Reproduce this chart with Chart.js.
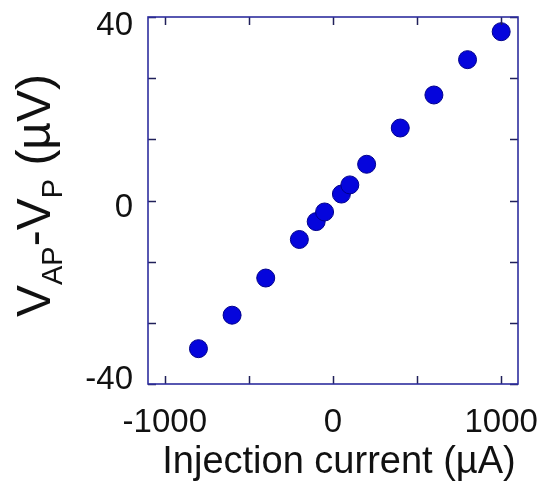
<!DOCTYPE html>
<html>
<head>
<meta charset="utf-8">
<script src="https://cdn.jsdelivr.net/npm/chart.js@4.4.1/dist/chart.umd.min.js"></script>
<style>
  html, body { margin: 0; padding: 0; background: #ffffff; }
  canvas { display: block; }
</style>
</head>
<body>
<canvas id="chart" width="547" height="491"></canvas>
<script>
// Injection current (µA) and measured voltage difference (µV)
const currents = [-800, -600, -400, -200, -100, -50, 50, 100, 200, 400, 600, 800, 1000];
const voltages = [-32.3, -25.0, -16.9, -8.5, -4.6, -2.5, 1.4, 3.4, 7.9, 15.8, 23.0, 30.7, 36.8];

// Axis ticks and which of them carry a label
const xTicks = [-1000, -500, 0, 500, 1000];
const xTickLabels = [-1000, 0, 1000];
const yTicks = [-40, -26.667, -13.333, 0, 13.333, 26.667, 40];
const yTickLabels = [-40, 0, 40];

const xTitle = 'Injection current (\u00b5A)';
// y title pieces: [text, isSubscript]
const yTitleParts = [['V', false], ['AP', true], ['-V', false], ['P', true], [' (\u00b5V)', false]];

const FONT = '"Liberation Sans", Arial, Helvetica, sans-serif';
const FRAME = '#2e2e9e';
const TICK = '#20205a';
const TEXT = '#111111';

// Frame, inward tick marks on all four sides, y tick labels and the axis titles
const framePlugin = {
  id: 'frame',
  afterDraw(chart) {
    const { ctx, chartArea: a, scales: { x, y } } = chart;
    ctx.save();
    ctx.strokeStyle = TICK;
    ctx.lineWidth = 1.5;
    const len = 8;
    ctx.beginPath();
    xTicks.forEach(v => {
      const px = Math.round(x.getPixelForValue(v)) + 0.5;
      ctx.moveTo(px, a.bottom); ctx.lineTo(px, a.bottom - len);
      ctx.moveTo(px, a.top); ctx.lineTo(px, a.top + len);
    });
    yTicks.forEach(v => {
      const py = Math.round(y.getPixelForValue(v)) + 0.5;
      ctx.moveTo(a.left, py); ctx.lineTo(a.left + len, py);
      ctx.moveTo(a.right, py); ctx.lineTo(a.right - len, py);
    });
    ctx.stroke();
    ctx.strokeStyle = FRAME;
    ctx.lineWidth = 1.6;
    ctx.strokeRect(a.left, a.top, a.right - a.left, a.bottom - a.top);

    ctx.fillStyle = TEXT;

    // y tick labels; the end labels sit slightly inside the frame
    ctx.font = '33px ' + FONT;
    ctx.textAlign = 'right';
    ctx.textBaseline = 'alphabetic';
    yTickLabels.forEach(v => {
      const py = y.getPixelForValue(v);
      const drop = v === y.max ? 18 : v === y.min ? 5 : 16;
      ctx.fillText(String(v), a.left - 15, py + drop);
    });

    // x title
    ctx.font = '38px ' + FONT;
    ctx.textAlign = 'center';
    ctx.fillText(xTitle, (a.left + a.right) / 2 + 6, 473);

    // y title with subscripts, rotated
    const mainSize = 48, subSize = 29, subDrop = 12;
    ctx.translate(50, 317);
    ctx.rotate(-Math.PI / 2);
    ctx.textAlign = 'left';
    let u = 0;
    yTitleParts.forEach(([txt, sub]) => {
      ctx.font = (sub ? subSize : mainSize) + 'px ' + FONT;
      ctx.fillText(txt, u, sub ? subDrop : 0);
      u += ctx.measureText(txt).width;
    });
    ctx.restore();
  }
};

const noScalePadding = s => {
  s.paddingTop = 0; s.paddingBottom = 0; s.paddingLeft = 0; s.paddingRight = 0;
};

new Chart(document.getElementById('chart'), {
  type: 'scatter',
  data: {
    datasets: [{
      data: currents.map((c, i) => ({ x: c, y: voltages[i] })),
      backgroundColor: '#0505dc',
      borderColor: '#00008c',
      borderWidth: 1,
      pointRadius: 9,
      pointHoverRadius: 9
    }]
  },
  options: {
    responsive: false,
    devicePixelRatio: 1,
    animation: false,
    layout: { padding: { top: 17, right: 29, left: 0, bottom: 0 } },
    plugins: { legend: { display: false }, tooltip: { enabled: false } },
    scales: {
      x: {
        type: 'linear',
        min: -1100,
        max: 1100,
        afterBuildTicks: s => { s.ticks = xTicks.map(v => ({ value: v })); },
        afterFit: s => { s.height = 107; noScalePadding(s); },
        ticks: {
          autoSkip: false,
          maxRotation: 0,
          padding: 22,
          color: TEXT,
          font: { family: FONT, size: 33, lineHeight: 1 },
          callback: v => xTickLabels.includes(v) ? String(v) : ''
        },
        grid: { display: false, drawTicks: false },
        border: { display: false }
      },
      y: {
        type: 'linear',
        min: -40,
        max: 40,
        afterBuildTicks: s => { s.ticks = yTicks.map(v => ({ value: v })); },
        afterFit: s => { s.width = 148; noScalePadding(s); },
        ticks: { display: false },
        grid: { display: false, drawTicks: false },
        border: { display: false }
      }
    }
  },
  plugins: [framePlugin]
});
</script>
</body>
</html>
